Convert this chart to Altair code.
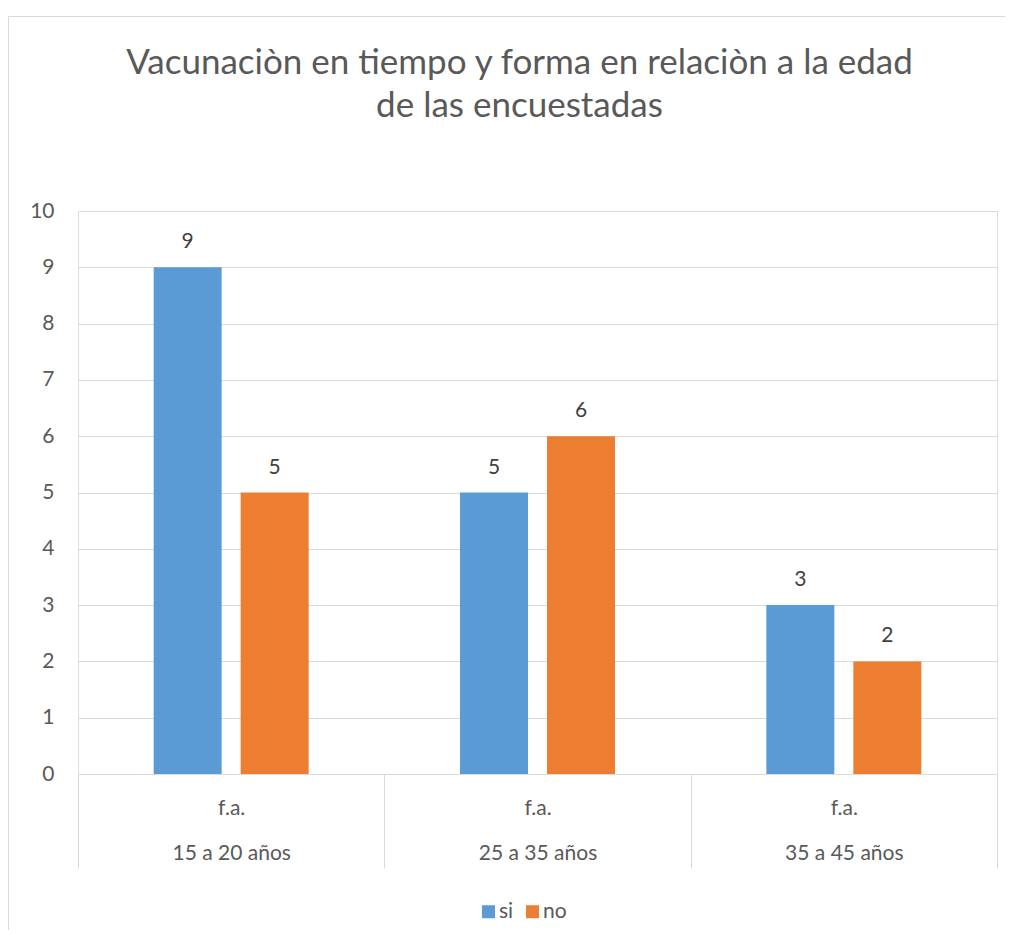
import altair as alt
import pandas as pd

# Data
edades = ["15 a 20 años", "25 a 35 años", "35 a 45 años"]
series = ["si", "no"]
valores_si = [9, 5, 3]
valores_no = [5, 6, 2]
sub_label = "f.a."
titulo = ["Vacunaciòn en tiempo y forma en relaciòn a la edad", "de las encuestadas"]
colores = ["#5B9BD5", "#ED7D31"]

rows = []
for e, s_val, n_val in zip(edades, valores_si, valores_no):
    rows.append({"edad": e, "serie": "si", "valor": s_val})
    rows.append({"edad": e, "serie": "no", "valor": n_val})
df = pd.DataFrame(rows)

FONT = "Lato"
FS = 21
W, H = 919, 563

x_enc = alt.X(
    "edad:N",
    sort=edades,
    title=None,
    scale=alt.Scale(paddingInner=0, paddingOuter=0),
    axis=alt.Axis(
        labelExpr=f"datum.label ? ['{sub_label}', datum.label] : ''",
        labelAngle=0,
        labelFont=FONT,
        labelFontSize=FS,
        labelColor="#595959",
        labelLineHeight=45,
        labelBaseline="middle",
        labelPadding=-60,
        tickBand="extent",
        tickSize=94,
        tickColor="#d9d9d9",
        tickWidth=1,
        domainColor="#d9d9d9",
        domainWidth=1,
        grid=False,
    ),
)
xoff = alt.XOffset(
    "serie:N",
    sort=series,
    scale=alt.Scale(domain=series, paddingInner=0.2184, paddingOuter=0.87),
)
y_enc = alt.Y(
    "valor:Q",
    title=None,
    scale=alt.Scale(domain=[0, 10], nice=False),
    axis=alt.Axis(
        values=list(range(0, 11)),
        format="d",
        domain=False,
        ticks=False,
        labelFont=FONT,
        labelFontSize=FS,
        labelColor="#595959",
        labelPadding=24,
        gridColor="#d9d9d9",
        gridWidth=1,
    ),
)

border = alt.Chart(pd.DataFrame({"a": [0]})).mark_rect(
    filled=False, stroke="#d9d9d9", strokeWidth=1
).encode(
    x=alt.value(-69.5),
    x2=alt.value(W + 60),
    y=alt.value(-194.5),
    y2=alt.value(H + 200),
)

bars = alt.Chart(df).mark_bar().encode(
    x=x_enc,
    xOffset=xoff,
    y=y_enc,
    color=alt.Color(
        "serie:N",
        sort=series,
        scale=alt.Scale(domain=series, range=colores),
        legend=alt.Legend(
            title=None,
            orient="none",
            legendX=400,
            legendY=690,
            direction="horizontal",
            symbolType="square",
            symbolSize=169,
            symbolStrokeWidth=0,
            labelFont=FONT,
            labelFontSize=FS,
            labelColor="#595959",
            labelOffset=0,
            columnPadding=8,
        ),
    ),
)

labels = alt.Chart(df).mark_text(
    font=FONT, fontSize=FS, color="#404040", baseline="middle", dy=-25
).encode(
    x=alt.X("edad:N", sort=edades),
    xOffset=xoff,
    y=alt.Y("valor:Q"),
    text=alt.Text("valor:Q"),
)

chart = (
    alt.layer(border, bars, labels)
    .properties(
        width=W,
        height=H,
        autosize=alt.AutoSizeParams(type="none"),
        padding={"left": 70, "top": 203, "right": 8, "bottom": 156},
        title=alt.TitleParams(
            text=titulo,
            font=FONT,
            fontSize=35,
            fontWeight="normal",
            color="#595959",
            anchor="middle",
            lineHeight=43,
            offset=-108,
            dx=-18,
        ),
    )
    .configure_view(stroke=None)
    .configure(background="white")
)

chart.save("out.html", embed_options={"renderer": "svg", "actions": False})
